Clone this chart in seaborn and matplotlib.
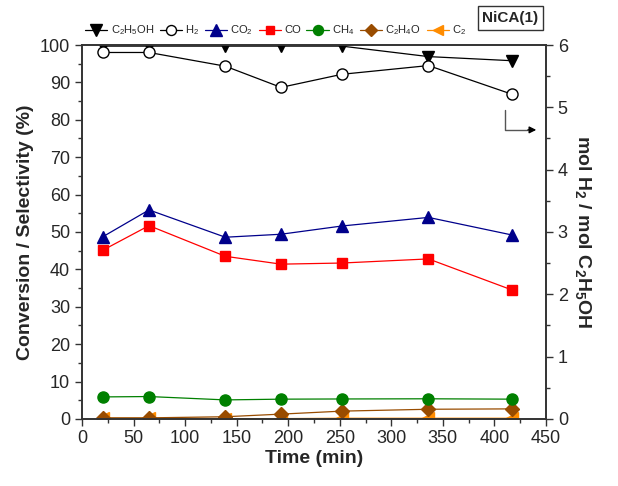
import numpy as np
import pandas as pd
import matplotlib
matplotlib.use("Agg")
import matplotlib.pyplot as plt
import seaborn as sns
from matplotlib.ticker import MultipleLocator
from matplotlib.lines import Line2D

time_min = [20, 65, 139, 193, 252, 336, 417]
c2h5oh = [99.7, 99.7, 99.7, 99.7, 99.7, 96.9, 95.8]
h2_ratio = [5.88, 5.88, 5.66, 5.32, 5.53, 5.67, 5.21]
co2 = [48.7, 55.9, 48.6, 49.4, 51.6, 53.9, 49.2]
co = [45.1, 51.7, 43.5, 41.4, 41.7, 42.8, 34.5]
ch4 = [5.9, 6.0, 5.1, 5.3, 5.35, 5.4, 5.3]
c2h4o = [0.3, 0.3, 0.6, 1.3, 2.1, 2.6, 2.7]
c2 = [0.2, 0.2, 0.1, 0.1, 0.2, 0.2, 0.2]

sns.set_style("ticks")
plt.rcParams['font.family'] = ['Liberation Sans', 'DejaVu Sans']
plt.rcParams['mathtext.fontset'] = 'custom'
plt.rcParams['mathtext.rm'] = 'Liberation Sans'
plt.rcParams['mathtext.bf'] = 'Liberation Sans:bold'
plt.rcParams['mathtext.default'] = 'regular'

fig = plt.figure(figsize=(6.18, 4.86), dpi=100)
ax = fig.add_axes([0.1327, 0.1379, 0.7508, 0.7695])
ax2 = ax.twinx()

# label, values, marker, face, edge, size, axis, zorder
series = [
    ("C$_2$H$_5$OH", c2h5oh, "v", "black", "black", 9, ax, 9),
    ("H$_2$", h2_ratio, "o", "white", "black", 8, ax2, 9),
    ("CO$_2$", co2, "^", "#00008B", "#00008B", 9, ax, 8),
    ("CO", co, "s", "#FF0000", "#FF0000", 7, ax, 7),
    ("CH$_4$", ch4, "o", "#008000", "#008000", 8, ax, 6),
    ("C$_2$H$_4$O", c2h4o, "D", "#994C00", "#994C00", 7, ax, 5),
    ("C$_2$", c2, "<", "#FF8C00", "#FF8C00", 8, ax, 4),
]

handles = []
for lab, vals, mk, fc, col, ms, a, z in series:
    lc = "black" if lab.startswith("H") else col
    sns.lineplot(x=time_min, y=vals, ax=a, marker=mk, color=lc, markersize=ms,
                 markerfacecolor=fc, markeredgecolor=col, markeredgewidth=1.0,
                 linewidth=0.9, zorder=z, legend=False)
    handles.append(Line2D([], [], marker=mk, color=lc, markersize=ms * 0.9,
                          markerfacecolor=fc, markeredgecolor=col, linewidth=0.9,
                          label=lab))

ax.set_xlim(0, 450)
ax.set_ylim(0, 100)
ax2.set_ylim(0, 6)
ax.xaxis.set_major_locator(MultipleLocator(50))
ax.xaxis.set_minor_locator(MultipleLocator(25))
ax.yaxis.set_major_locator(MultipleLocator(10))
ax.yaxis.set_minor_locator(MultipleLocator(5))
ax2.yaxis.set_major_locator(MultipleLocator(1))
ax2.yaxis.set_minor_locator(MultipleLocator(0.5))

for a in (ax, ax2):
    a.tick_params(which='major', direction='out', length=5, width=1, labelsize=13, color='#333333')
    a.tick_params(which='minor', direction='out', length=3, width=1, color='#333333')
    for s in a.spines.values():
        s.set_linewidth(1.2)
        s.set_color('#333333')
        s.set_zorder(10)
ax.tick_params(axis='x', pad=3)

ax.set_xlabel("Time (min)", fontsize=14, fontweight='bold', labelpad=2)
ax.set_ylabel("Conversion / Selectivity (%)", fontsize=14, fontweight='bold', labelpad=4)
ax2.set_ylabel(r"mol H$_\mathbf{2}$ / mol C$_\mathbf{2}$H$_\mathbf{5}$OH", fontsize=14,
               fontweight='bold', rotation=270, labelpad=18)

leg = ax.legend(handles=handles, loc='lower left', bbox_to_anchor=(-0.01, 1.0),
                ncol=7, frameon=False, fontsize=8, handlelength=2.0,
                columnspacing=0.5, handletextpad=0.3, borderaxespad=0.3)

fig.text(0.826, 0.963, "NiCA(1)", fontsize=11, fontweight='bold', ha='center', va='center',
         bbox=dict(boxstyle='square,pad=0.3', facecolor='white', edgecolor='#333333', linewidth=1))

ax.plot([0.912, 0.912, 0.96], [0.826, 0.773, 0.773], transform=ax.transAxes,
        color='#555555', linewidth=1, clip_on=False)
ax.annotate("", xy=(0.985, 0.773), xytext=(0.955, 0.773), xycoords='axes fraction',
            arrowprops=dict(arrowstyle='-|>', color='black', lw=1, mutation_scale=10))

fig.savefig("out.png", dpi=100)
